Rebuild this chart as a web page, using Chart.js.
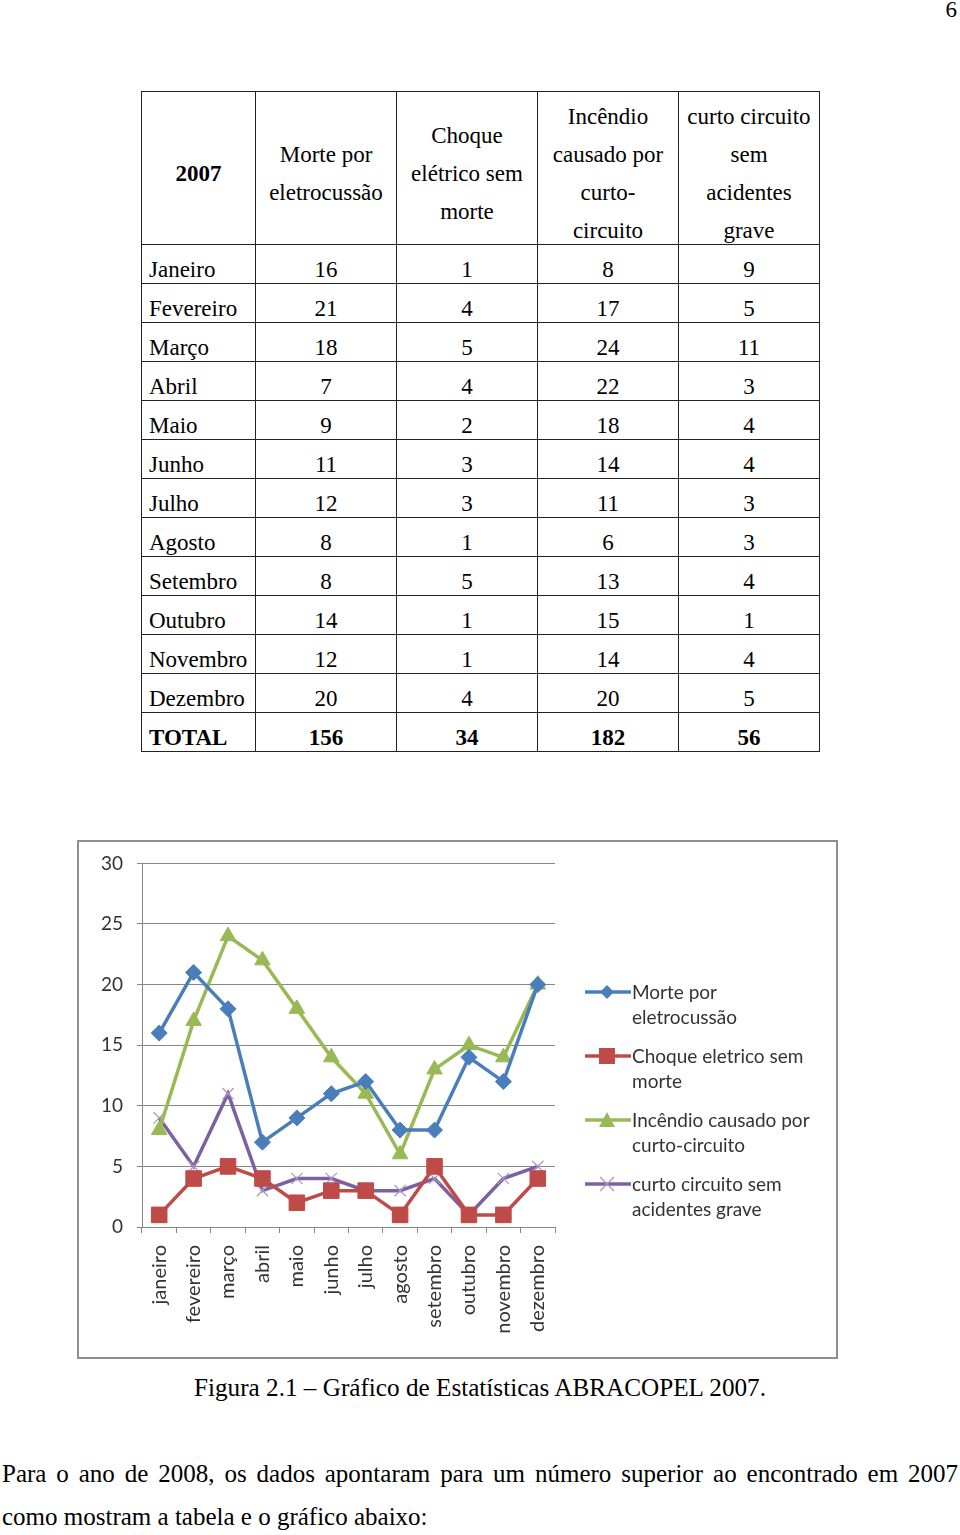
<!DOCTYPE html>
<html>
<head>
<meta charset="utf-8">
<script src="https://cdn.jsdelivr.net/npm/chart.js@4.4.0/dist/chart.umd.min.js"></script>
<style>
  html, body { margin: 0; padding: 0; background: #fff; }
  body { width: 960px; height: 1535px; position: relative; overflow: hidden; font-family: "Liberation Serif", "Times New Roman", serif; color: #000; }
  #pagenum { position: absolute; right: 3px; top: -3px; font-size: 23px; }
  table { position: absolute; left: 141px; top: 91px; border-collapse: collapse; font-size: 23px; table-layout: fixed; }
  td { border: 1.5px solid #222; padding: 0; text-align: center; vertical-align: bottom; height: 37px; line-height: 24px; padding-bottom: 1px; }
  td.m { text-align: left; padding-left: 7px; }
  tr.head td { height: 151px; vertical-align: middle; line-height: 38px; padding: 0; }
  tr.head td div { position: relative; top: 6px; }
  tr.tot td { font-weight: bold; }
  #chartbox { position: absolute; left: 77px; top: 840px; width: 761px; height: 519px; border: 2px solid #8e8e8e; box-sizing: border-box; }
  #chartbox canvas { position: absolute; left: 0; top: -4px; }
  #legend { position: absolute; left: 506px; top: 137px; font-family: Lato, "Open Sans", sans-serif; font-size: 19px; color: #333; }
  .li { position: relative; height: 64px; }
  .li svg { position: absolute; left: 0; top: 4px; }
  .li div { position: absolute; left: 47px; top: 0; line-height: 25px; white-space: nowrap; }
  #caption { position: absolute; left: 0; width: 960px; top: 1374px; text-align: center; font-size: 25.2px; }
  #p1 { position: absolute; left: 2px; width: 956px; top: 1460px; font-size: 25px; text-align: justify; text-align-last: justify; white-space: nowrap; }
  #p2 { position: absolute; left: 2px; top: 1503px; font-size: 25px; }
</style>
</head>
<body>
<div id="pagenum">6</div>
<table id="tbl"></table>
<div id="chartbox">
  <canvas id="c" width="757" height="519" style="width:757px;height:519px"></canvas>
  <div id="legend"></div>
</div>
<div id="caption">Figura 2.1 – Gráfico de Estatísticas ABRACOPEL 2007.</div>
<div id="p1">Para o ano de 2008, os dados apontaram para um número superior ao encontrado em 2007</div>
<div id="p2">como mostram a tabela e o gráfico abaixo:</div>
<script>
// ---- Data ----
const tableMonths = ["Janeiro","Fevereiro","Março","Abril","Maio","Junho","Julho","Agosto","Setembro","Outubro","Novembro","Dezembro"];
const chartMonths = ["janeiro","fevereiro","março","abril","maio","junho","julho","agosto","setembro","outubro","novembro","dezembro"];
const headerYear = "2007";
const tableHeaders = ["Morte por<br>eletrocussão","Choque<br>elétrico sem<br>morte","Incêndio<br>causado por<br>curto-<br>circuito","curto circuito<br>sem<br>acidentes<br>grave"];
const seriesNames = ["Morte por eletrocussão","Choque eletrico sem morte","Incêndio causado por curto-circuito","curto circuito sem acidentes grave"];
const legendLines = [["Morte por","eletrocussão"],["Choque eletrico sem","morte"],["Incêndio causado por","curto-circuito"],["curto circuito sem","acidentes grave"]];
const morte    = [16,21,18,7,9,11,12,8,8,14,12,20];
const choque   = [1,4,5,4,2,3,3,1,5,1,1,4];
const incendio = [8,17,24,22,18,14,11,6,13,15,14,20];
const curto    = [9,5,11,3,4,4,3,3,4,1,4,5];
const totals   = [156,34,182,56];
const yTicks   = [0,5,10,15,20,25,30];

// ---- Table ----
const tbl = document.getElementById('tbl');
const colW = [114,141,141,141,141];
let html = '<colgroup>' + colW.map(w => `<col style="width:${w}px">`).join('') + '</colgroup>';
html += `<tr class="head"><td><div><b>${headerYear}</b></div></td>` + tableHeaders.map(h => `<td><div>${h}</div></td>`).join('') + '</tr>';
const cols = [morte, choque, incendio, curto];
tableMonths.forEach((m, i) => {
  html += `<tr><td class="m">${m}</td>` + cols.map(c => `<td>${c[i]}</td>`).join('') + '</tr>';
});
html += `<tr class="tot"><td class="m">TOTAL</td>` + totals.map(t => `<td>${t}</td>`).join('') + '</tr>';
tbl.innerHTML = html;

// ---- Chart ----
const colors = ['#4a7ebb','#be4b48','#98b954','#7d60a0'];
const styles = ['rectRot','rect','triangle','crossRot'];
const radii = [8, 11, 9, 8];
const datasets = [morte, choque, incendio, curto].map((d, i) => ({
  label: seriesNames[i],
  data: d,
  borderColor: colors[i],
  backgroundColor: colors[i],
  borderWidth: 3.5,
  pointStyle: styles[i],
  pointRadius: radii[i],
  pointHoverRadius: radii[i],
  pointBorderWidth: i === 3 ? 1.2 : 1,
  pointBorderColor: i === 3 ? '#a898c0' : colors[i],
  pointBackgroundColor: colors[i],
  tension: 0
}));

const tickFont = { family: 'Lato, "Open Sans", sans-serif', size: 19 };
const xFont = { family: 'Lato, "Open Sans", sans-serif', size: 20 };
new Chart(document.getElementById('c'), {
  type: 'line',
  data: { labels: chartMonths, datasets },
  options: {
    responsive: false,
    animation: false,
    devicePixelRatio: 1,
    layout: { padding: { top: 17, right: 281, left: 0, bottom: 0 } },
    plugins: { legend: { display: false }, tooltip: { enabled: false } },
    scales: {
      x: {
        offset: true,
        grid: { offset: true, drawOnChartArea: false, drawTicks: true, tickLength: 6, color: '#868686', lineWidth: 1 },
        border: { color: '#868686', width: 1 },
        ticks: { font: xFont, color: '#333', minRotation: 90, maxRotation: 90, autoSkip: false, padding: 12 },
        afterFit: s => { s.height = 130; }
      },
      y: {
        min: 0, max: 30,
        afterBuildTicks: s => { s.ticks = yTicks.map(v => ({ value: v })); },
        grid: { color: '#868686', lineWidth: 1, tickLength: 5 },
        border: { color: '#868686', width: 1 },
        ticks: { font: tickFont, color: '#333', padding: 14 },
        afterFit: s => { s.width = 63; }
      }
    }
  }
});

// ---- Legend ----
function markerSVG(i) {
  const c = colors[i];
  let m = '';
  if (i === 0) m = `<polygon points="22,2 29,9 22,16 15,9" fill="${c}"/>`;
  if (i === 1) m = `<rect x="14" y="1" width="16" height="16" fill="${c}"/>`;
  if (i === 2) m = `<polygon points="22,1 30,16 14,16" fill="${c}"/>`;
  if (i === 3) m = `<path d="M15,2 L29,16 M29,2 L15,16" stroke="#a898c0" stroke-width="1.3"/>`;
  return `<svg width="46" height="18"><line x1="0" y1="9" x2="46" y2="9" stroke="${c}" stroke-width="3.5"/>${m}</svg>`;
}
document.getElementById('legend').innerHTML = legendLines.map((l, i) =>
  `<div class="li">${markerSVG(i)}<div>${l.join('<br>')}</div></div>`).join('');
</script>
</body>
</html>
